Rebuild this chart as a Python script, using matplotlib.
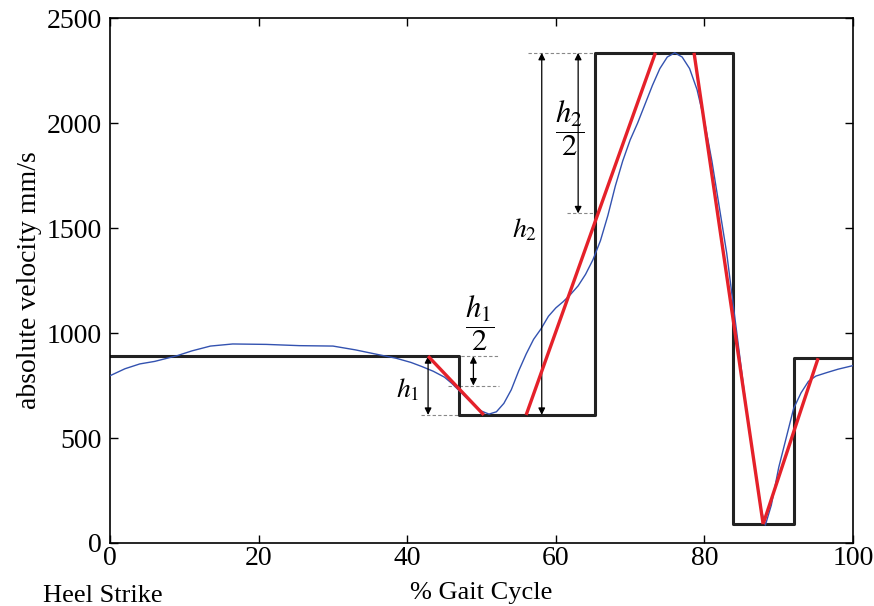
import matplotlib
matplotlib.use("Agg")
import matplotlib.pyplot as plt

plt.rcParams["font.family"] = ["Liberation Serif", "DejaVu Serif"]
plt.rcParams["mathtext.fontset"] = "stix"

# blue measured velocity curve (% gait cycle, mm/s)
gait_pct = [0, 2, 4, 6, 9, 11, 13.5, 16.5, 21, 25.5, 30, 33, 36, 38.5, 40.5,
            42, 43.5, 45, 46, 47, 48, 49, 50, 51, 52, 53, 54, 55, 56, 57, 58,
            59, 60, 61, 62, 63, 64, 65, 66, 67, 68, 69, 70, 71, 72, 73, 74,
            75, 76, 77, 78, 79, 80, 81, 82, 83, 84, 85, 86, 87, 87.7, 88.2,
            89, 90, 91, 92, 93, 94, 95, 96.5, 98, 100]
velocity = [797, 830, 853, 865, 892, 915, 938, 948, 946, 940, 938, 920, 898,
            880, 860, 840, 818, 790, 760, 725, 690, 655, 628, 614, 625, 665,
            730, 820, 900, 970, 1020, 1080, 1120, 1150, 1185, 1225, 1280,
            1350, 1440, 1560, 1700, 1820, 1920, 2000, 2090, 2180, 2260, 2315,
            2335, 2315, 2260, 2160, 2010, 1820, 1600, 1380, 1100, 820, 540,
            310, 150, 85, 180, 360, 500, 640, 715, 770, 795, 812, 828, 845]

# black step approximation
step_x = [0, 47, 47, 65.3, 65.3, 83.8, 83.8, 92, 92, 100]
step_y = [890, 890, 610, 610, 2335, 2335, 90, 90, 880, 880]

# red fitted slopes
red_segments = [
    ([42.8, 50.3], [890, 610]),
    ([56.0, 73.4], [610, 2335]),
    ([78.6, 87.9], [2335, 90]),
    ([87.9, 95.3], [90, 880]),
]

fig = plt.figure(figsize=(8.74, 6.06), dpi=100)
ax = fig.add_axes([0.126, 0.104, 0.850, 0.866])

ax.plot(gait_pct, velocity, color="#3352b0", lw=1.0, zorder=3)
ax.plot(step_x, step_y, color="#222222", lw=2.2, zorder=2)
for sx, sy in red_segments:
    ax.plot(sx, sy, color="#e5212a", lw=2.4, zorder=4, solid_capstyle="butt")

# dashed guide lines
dash = dict(color="#888888", lw=0.8, ls=(0, (3, 2)), zorder=1)
ax.plot([42, 52.3], [890, 890], **dash)
ax.plot([45.5, 52.3], [750, 750], **dash)
ax.plot([41.8, 47], [610, 610], **dash)
ax.plot([56.3, 65.3], [2335, 2335], **dash)
ax.plot([61.5, 65.3], [1570, 1570], **dash)

arrow = dict(arrowstyle="<|-|>", color="black", lw=0.9, mutation_scale=10,
             shrinkA=0, shrinkB=0)
ax.annotate("", xy=(42.8, 610), xytext=(42.8, 890), arrowprops=arrow)
ax.annotate("", xy=(48.9, 750), xytext=(48.9, 890), arrowprops=arrow)
ax.annotate("", xy=(58.1, 610), xytext=(58.1, 2335), arrowprops=arrow)
ax.annotate("", xy=(63.0, 1570), xytext=(63.0, 2335), arrowprops=arrow)

ax.text(40.0, 730, r"$h_1$", fontsize=20, ha="center", va="center")
ax.text(49.8, 1045, r"$\dfrac{h_1}{2}$", fontsize=22, ha="center", va="center")
ax.text(55.8, 1490, r"$h_2$", fontsize=20, ha="center", va="center")
ax.text(61.9, 1975, r"$\dfrac{h_2}{2}$", fontsize=22, ha="center", va="center")

ax.set_xlim(0, 100)
ax.set_ylim(0, 2500)
ax.set_xticks([0, 20, 40, 60, 80, 100])
ax.set_yticks([0, 500, 1000, 1500, 2000, 2500])
ax.tick_params(direction="in", top=True, right=True, length=6, width=1,
               labelsize=20)
ax.tick_params(axis="x", pad=2)
ax.tick_params(axis="y", pad=6)
for s in ax.spines.values():
    s.set_linewidth(1.2)

ax.set_xlabel("% Gait Cycle", fontsize=19)
ax.xaxis.set_label_coords(0.5, -0.074)
ax.set_ylabel("absolute velocity mm/s", fontsize=20)
ax.yaxis.set_label_coords(-0.092, 0.5)

fig.text(0.049, 0.017, "Heel Strike", fontsize=19, ha="left", va="center")

fig.savefig("out.png", dpi=100)
